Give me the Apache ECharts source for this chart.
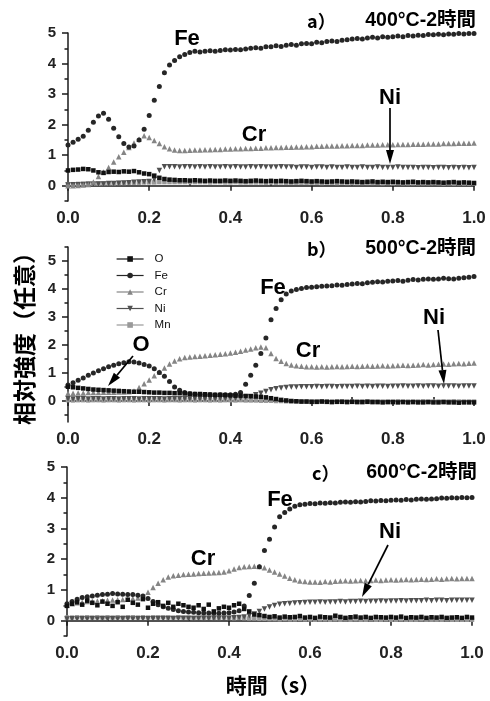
<!DOCTYPE html>
<html>
<head>
<meta charset="utf-8">
<script src="https://cdn.jsdelivr.net/npm/echarts@6/dist/echarts.min.js"></script>
<style>
html,body{margin:0;padding:0;background:#fff}
#chart{width:490px;height:701px}
</style>
</head>
<body>
<div id="chart"></div>
<script>
// sampling times, 0 .. 1.0 s, every 0.0125 s
var times = [];
for (var i = 0; i <= 80; i++) times.push(+(i * 0.0125).toFixed(4));

var elements = ['O', 'Fe', 'Cr', 'Ni', 'Mn'];
var xTicks = [0, 0.2, 0.4, 0.6, 0.8, 1.0];
var xMinorTicks = [0.1, 0.3, 0.5, 0.7, 0.9];
var yTicks = [0, 1, 2, 3, 4, 5];
var yMinorTicks = [-0.5, 0.5, 1.5, 2.5, 3.5, 4.5];
var yMinorTicksB = [-0.5, 0.5, 1.5, 2.5, 3.5, 4.5, 5.5];
var panelLetters = ['a）', 'b）', 'c）'];
var panelTitles = ['400°C-2時間', '500°C-2時間', '600°C-2時間'];

// a) 400°C
var oA = [0.50,0.52,0.53,0.55,0.54,0.50,0.44,0.42, 0.45,0.46,0.45,0.47,0.46,0.48,0.44,0.40,
  0.38,0.33,0.26,0.22,0.20,0.19,0.18,0.18, 0.17,0.18,0.17,0.16,0.17,0.16,0.16,0.17,
  0.16,0.17,0.16,0.15,0.16,0.17,0.16,0.15, 0.16,0.15,0.16,0.15,0.14,0.15,0.16,0.15,
  0.14,0.15,0.14,0.13,0.14,0.15,0.14,0.13, 0.14,0.13,0.12,0.13,0.14,0.12,0.13,0.12,
  0.13,0.12,0.11,0.12,0.13,0.11,0.12,0.11, 0.12,0.11,0.10,0.11,0.12,0.10,0.11,0.10, 0.09];
var feA = [1.33,1.42,1.52,1.62,1.82,2.08,2.28,2.37, 2.18,1.88,1.60,1.38,1.27,1.30,1.50,1.85,
  2.30,2.80,3.25,3.70,3.95,4.10,4.22,4.30, 4.36,4.40,4.38,4.40,4.42,4.40,4.43,4.45,
  4.44,4.46,4.45,4.48,4.50,4.52,4.50,4.55, 4.55,4.58,4.56,4.60,4.62,4.60,4.65,4.66,
  4.65,4.70,4.68,4.72,4.74,4.72,4.76,4.78, 4.80,4.82,4.80,4.84,4.86,4.84,4.88,4.86,
  4.88,4.90,4.88,4.92,4.90,4.93,4.92,4.95, 4.94,4.96,4.94,4.97,4.96,4.98,4.97,4.98, 4.98];
var crA = [0.00,0.00,0.01,0.02,0.04,0.12,0.30,0.45, 0.60,0.78,0.95,1.10,1.25,1.40,1.52,1.64,
  1.58,1.48,1.38,1.28,1.21,1.17,1.15,1.15, 1.16,1.17,1.17,1.18,1.18,1.19,1.19,1.20,
  1.20,1.21,1.21,1.22,1.22,1.23,1.23,1.24, 1.24,1.25,1.25,1.26,1.26,1.27,1.27,1.28,
  1.28,1.29,1.29,1.30,1.30,1.30,1.31,1.31, 1.32,1.32,1.32,1.33,1.33,1.33,1.34,1.34,
  1.34,1.35,1.35,1.35,1.36,1.36,1.36,1.37, 1.37,1.37,1.38,1.38,1.38,1.39,1.39,1.39, 1.40];
var niA = [0.02,0.03,0.03,0.04,0.05,0.05,0.06,0.06, 0.07,0.07,0.08,0.09,0.10,0.11,0.12,0.13,
  0.14,0.20,0.50,0.62,0.62,0.62,0.61,0.62, 0.62,0.61,0.62,0.61,0.62,0.61,0.61,0.62,
  0.61,0.62,0.61,0.61,0.62,0.61,0.62,0.61, 0.61,0.61,0.62,0.61,0.61,0.60,0.61,0.61,
  0.60,0.61,0.61,0.60,0.61,0.60,0.60,0.61, 0.60,0.60,0.61,0.60,0.60,0.61,0.60,0.60,
  0.60,0.61,0.60,0.60,0.60,0.59,0.60,0.60, 0.59,0.60,0.60,0.59,0.60,0.59,0.60,0.59, 0.60];
var mnA = [0.05,0.05,0.06,0.06,0.07,0.07,0.07,0.08, 0.08,0.08,0.09,0.09,0.10,0.10,0.10,0.11,
  0.11,0.11,0.12,0.12,0.12,0.12,0.12,0.12, 0.12,0.12,0.12,0.12,0.11,0.12,0.12,0.11,
  0.11,0.12,0.11,0.11,0.11,0.11,0.11,0.10, 0.11,0.10,0.11,0.10,0.10,0.10,0.10,0.10,
  0.10,0.10,0.09,0.10,0.10,0.09,0.10,0.09, 0.09,0.09,0.09,0.09,0.09,0.09,0.08,0.09,
  0.08,0.09,0.08,0.08,0.08,0.08,0.08,0.08, 0.08,0.08,0.07,0.08,0.07,0.08,0.07,0.07, 0.07];

// b) 500°C
var oB = [0.51,0.49,0.47,0.45,0.43,0.41,0.40,0.39, 0.38,0.37,0.36,0.35,0.34,0.33,0.33,0.32,
  0.31,0.30,0.30,0.29,0.29,0.28,0.28,0.27, 0.26,0.25,0.25,0.24,0.23,0.22,0.22,0.21,
  0.20,0.19,0.19,0.18,0.17,0.16,0.15,0.13, 0.10,0.07,0.04,0.02,0.00,-0.01,-0.02,-0.02,
  -0.03,-0.03,-0.02,-0.03,-0.04,-0.03,-0.03,-0.04, -0.03,-0.04,-0.04,-0.03,-0.04,-0.04,-0.05,-0.04,
  -0.04,-0.05,-0.04,-0.05,-0.04,-0.05,-0.05,-0.04, -0.05,-0.05,-0.04,-0.05,-0.05,-0.06,-0.05,-0.05, -0.05];
var feB = [0.57,0.65,0.74,0.82,0.92,1.00,1.08,1.15, 1.22,1.28,1.33,1.37,1.40,1.39,1.36,1.30,
  1.25,1.15,1.02,0.88,0.70,0.50,0.38,0.30, 0.26,0.24,0.23,0.22,0.22,0.21,0.22,0.22,
  0.22,0.24,0.30,0.60,0.92,1.28,1.70,2.25, 2.90,3.30,3.62,3.82,3.93,3.98,4.02,4.05,
  4.06,4.08,4.10,4.11,4.12,4.14,4.13,4.16, 4.18,4.20,4.19,4.22,4.24,4.26,4.25,4.28,
  4.29,4.30,4.28,4.31,4.34,4.32,4.35,4.36, 4.35,4.36,4.38,4.37,4.36,4.38,4.40,4.42, 4.45];
var crB = [0.28,0.28,0.29,0.29,0.30,0.30,0.30,0.31, 0.31,0.31,0.32,0.32,0.33,0.36,0.48,0.62,
  0.75,0.90,1.04,1.18,1.32,1.43,1.51,1.55, 1.57,1.59,1.60,1.62,1.63,1.65,1.67,1.69,
  1.71,1.74,1.78,1.82,1.86,1.90,1.93,1.90, 1.70,1.52,1.42,1.34,1.29,1.26,1.24,1.22,
  1.22,1.21,1.22,1.21,1.22,1.23,1.22,1.23, 1.24,1.23,1.24,1.25,1.24,1.25,1.26,1.25,
  1.26,1.27,1.28,1.27,1.28,1.29,1.30,1.29, 1.30,1.31,1.32,1.31,1.33,1.34,1.33,1.35, 1.36];
var niB = [0.08,0.07,0.08,0.08,0.07,0.08,0.08,0.07, 0.08,0.08,0.07,0.08,0.08,0.08,0.07,0.08,
  0.08,0.08,0.08,0.07,0.08,0.08,0.08,0.08, 0.08,0.09,0.08,0.08,0.09,0.08,0.09,0.09,
  0.10,0.10,0.11,0.13,0.16,0.22,0.28,0.34, 0.40,0.44,0.46,0.48,0.50,0.50,0.51,0.51,
  0.51,0.52,0.51,0.52,0.52,0.51,0.52,0.52, 0.52,0.53,0.52,0.53,0.52,0.53,0.53,0.52,
  0.53,0.53,0.54,0.53,0.53,0.54,0.53,0.54, 0.54,0.53,0.54,0.54,0.54,0.53,0.54,0.54, 0.54];
var mnB = [0.03,0.02,0.03,0.03,0.02,0.03,0.03,0.02, 0.03,0.03,0.02,0.03,0.03,0.02,0.03,0.03,
  0.02,0.03,0.03,0.02,0.03,0.03,0.02,0.03, 0.03,0.02,0.03,0.03,0.02,0.03,0.02,0.03,
  0.03,0.02,0.03,0.02,0.02,0.02,0.01,0.01, 0.01,0.00,0.00,-0.01,-0.01,-0.01,-0.02,-0.02,
  -0.02,-0.02,-0.01,-0.02,-0.02,-0.02,-0.01,-0.02, -0.02,-0.02,-0.02,-0.01,-0.02,-0.02,-0.02,-0.02,
  -0.02,-0.01,-0.02,-0.02,-0.02,-0.02,-0.01,-0.02, -0.02,-0.02,-0.02,-0.02,-0.01,-0.02,-0.02,-0.02, -0.02];

// c) 600°C
var oC = [0.48,0.55,0.60,0.52,0.65,0.58,0.50,0.62, 0.55,0.48,0.60,0.45,0.68,0.58,0.52,0.70,
  0.42,0.55,0.60,0.48,0.58,0.45,0.55,0.50, 0.45,0.42,0.50,0.38,0.52,0.30,0.40,0.45,
  0.42,0.50,0.55,0.38,0.30,0.20,0.18,0.15, 0.12,0.14,0.10,0.13,0.11,0.12,0.15,0.10,
  0.12,0.09,0.13,0.11,0.10,0.16,0.12,0.09, 0.11,0.13,0.10,0.12,0.09,0.12,0.11,0.10,
  0.12,0.10,0.13,0.09,0.11,0.10,0.12,0.09, 0.11,0.10,0.12,0.09,0.10,0.11,0.09,0.12, 0.10];
var feC = [0.55,0.62,0.70,0.75,0.78,0.80,0.83,0.85, 0.86,0.88,0.87,0.86,0.85,0.85,0.83,0.80,
  0.72,0.62,0.52,0.45,0.40,0.36,0.32,0.30, 0.28,0.27,0.26,0.25,0.25,0.24,0.24,0.25,
  0.26,0.28,0.32,0.48,0.82,1.22,1.75,2.28, 2.65,3.05,3.38,3.52,3.63,3.72,3.77,3.79,
  3.81,3.80,3.83,3.82,3.84,3.83,3.85,3.86, 3.85,3.87,3.86,3.88,3.90,3.89,3.91,3.90,
  3.92,3.93,3.92,3.94,3.93,3.95,3.96,3.95, 3.96,3.97,3.99,3.98,4.00,3.99,4.01,4.00, 4.01];
var crC = [0.50,0.55,0.58,0.60,0.62,0.63,0.64,0.65, 0.66,0.67,0.68,0.69,0.70,0.72,0.74,0.78,
  0.92,1.08,1.22,1.33,1.42,1.46,1.48,1.50, 1.51,1.52,1.53,1.54,1.55,1.56,1.57,1.58,
  1.62,1.68,1.73,1.75,1.76,1.77,1.76,1.72, 1.65,1.58,1.52,1.45,1.38,1.33,1.29,1.27,
  1.26,1.26,1.25,1.27,1.26,1.28,1.29,1.30, 1.29,1.30,1.31,1.30,1.31,1.32,1.31,1.32,
  1.33,1.32,1.33,1.34,1.33,1.34,1.35,1.34, 1.35,1.36,1.35,1.36,1.37,1.36,1.37,1.37, 1.37];
var niC = [0.05,0.06,0.05,0.06,0.05,0.06,0.05,0.06, 0.05,0.06,0.05,0.06,0.06,0.05,0.06,0.06,
  0.06,0.06,0.07,0.06,0.07,0.06,0.07,0.07, 0.07,0.07,0.07,0.08,0.07,0.08,0.08,0.08,
  0.08,0.09,0.10,0.12,0.16,0.22,0.30,0.38, 0.44,0.49,0.53,0.55,0.56,0.57,0.58,0.59,
  0.60,0.60,0.61,0.60,0.61,0.61,0.62,0.61, 0.62,0.62,0.63,0.62,0.63,0.63,0.64,0.63,
  0.64,0.64,0.65,0.64,0.65,0.65,0.65,0.66, 0.65,0.66,0.66,0.65,0.66,0.66,0.66,0.66, 0.66];
var mnC = [0.10,0.10,0.11,0.10,0.11,0.10,0.11,0.10, 0.11,0.10,0.11,0.10,0.11,0.11,0.10,0.11,
  0.10,0.11,0.10,0.11,0.10,0.10,0.11,0.10, 0.10,0.09,0.10,0.09,0.10,0.09,0.09,0.10,
  0.09,0.08,0.09,0.08,0.07,0.07,0.06,0.06, 0.05,0.05,0.04,0.05,0.04,0.04,0.05,0.04,
  0.04,0.03,0.04,0.04,0.03,0.04,0.03,0.04, 0.03,0.04,0.03,0.03,0.04,0.03,0.03,0.04,
  0.03,0.03,0.04,0.03,0.03,0.03,0.04,0.03, 0.03,0.03,0.03,0.04,0.03,0.03,0.03,0.03, 0.03];

var panels = [
  {O: oA, Fe: feA, Cr: crA, Ni: niA, Mn: mnA},
  {O: oB, Fe: feB, Cr: crB, Ni: niB, Mn: mnB},
  {O: oC, Fe: feC, Cr: crC, Ni: niC, Mn: mnC}
];

var grids = [
  {left: 68, top: 33, width: 406, height: 168, ymin: -0.5, ymax: 5, minor: yMinorTicks},
  {left: 68, top: 247, width: 406, height: 175, ymin: -0.75, ymax: 5.5, minor: yMinorTicksB},
  {left: 67, top: 467, width: 405, height: 169, ymin: -0.5, ymax: 5, minor: yMinorTicks}
];

var marks = {
  O:  {symbol: 'rect', size: 4.5, rotate: 0, color: '#111'},
  Fe: {symbol: 'circle', size: 5, rotate: 0, color: '#262626'},
  Cr: {symbol: 'triangle', size: 5.5, rotate: 0, color: '#858585'},
  Ni: {symbol: 'triangle', size: 5.5, rotate: 180, color: '#505050'},
  Mn: {symbol: 'rect', size: 4.5, rotate: 0, color: '#999'}
};
var drawOrder = ['Mn', 'Ni', 'Cr', 'Fe', 'O'];

var axisColor = '#1a1a1a';
var latin = 'Liberation Sans';
var cjk = 'Noto Sans CJK JP';

var gridOpt = [], xAxisOpt = [], yAxisOpt = [], seriesOpt = [];
grids.forEach(function (g, p) {
  gridOpt.push({left: g.left, top: g.top, width: g.width, height: g.height});
  xAxisOpt.push({
    type: 'value', gridIndex: p, min: 0, max: 1, position: 'bottom',
    axisLine: {lineStyle: {color: axisColor, width: 1.5}},
    axisTick: {customValues: xTicks, length: 5, lineStyle: {color: axisColor, width: 1.5}},
    axisLabel: {customValues: xTicks, formatter: function (v) { return v.toFixed(1); },
      fontSize: 17, fontWeight: 'bold', color: '#222', margin: 9, fontFamily: latin},
    splitLine: {show: false}
  }, {
    type: 'value', gridIndex: p, min: 0, max: 1, position: 'bottom',
    axisLine: {show: false},
    axisTick: {customValues: xMinorTicks, inside: true, length: 4, lineStyle: {color: axisColor, width: 1.5}},
    axisLabel: {show: false}, splitLine: {show: false}
  });
  yAxisOpt.push({
    type: 'value', gridIndex: p, min: g.ymin, max: g.ymax, position: 'left',
    axisLine: {show: true, lineStyle: {color: axisColor, width: 1.5}},
    axisTick: {show: true, customValues: yTicks, length: 6, lineStyle: {color: axisColor, width: 1.5}},
    axisLabel: {customValues: yTicks, fontSize: 15, fontWeight: 'bold', color: '#222', margin: 12, fontFamily: latin},
    splitLine: {show: false}
  }, {
    type: 'value', gridIndex: p, min: g.ymin, max: g.ymax, position: 'left',
    axisLine: {show: false},
    axisTick: {show: true, customValues: g.minor, length: 3.5, lineStyle: {color: axisColor, width: 1.5}},
    axisLabel: {show: false}, splitLine: {show: false}
  });
  drawOrder.forEach(function (el) {
    var m = marks[el], vals = panels[p][el];
    seriesOpt.push({
      name: el, type: 'line', xAxisIndex: p * 2, yAxisIndex: p * 2,
      data: times.map(function (t, i) { return [t, vals[i]]; }),
      symbol: m.symbol, symbolSize: m.size, symbolRotate: m.rotate, showSymbol: true,
      itemStyle: {color: m.color},
      lineStyle: {color: m.color, width: 1, opacity: 0},
      silent: true
    });
  });
});

function text(str, x, y, size, opt) {
  opt = opt || {};
  return {
    type: 'text', x: x, y: y, rotation: opt.rotation || 0, z: 100,
    style: {
      text: str, fill: '#000', fontSize: size, fontFamily: opt.font || latin,
      fontWeight: opt.weight || 'normal', align: opt.align || 'center', verticalAlign: 'middle'
    }
  };
}

function arrow(x1, y1, x2, y2) {
  var a = Math.atan2(y2 - y1, x2 - x1), len = 14, w = 4;
  var bx = x2 - len * Math.cos(a), by = y2 - len * Math.sin(a);
  var sx = w * Math.sin(a), sy = w * Math.cos(a);
  return [
    {type: 'line', z: 100, shape: {x1: x1, y1: y1, x2: bx, y2: by}, style: {stroke: '#000', lineWidth: 1.7}},
    {type: 'polygon', z: 100, shape: {points: [[x2, y2], [bx + sx, by - sy], [bx - sx, by + sy]]}, style: {fill: '#000'}}
  ];
}

var graphics = [];
var titleY = [21, 249, 473];
var letterX = [307, 307, 312];
var titleRight = [476, 476, 477];
titleY.forEach(function (y, p) {
  graphics.push(text(panelLetters[p], letterX[p], y, 18, {align: 'left', font: cjk, weight: 'bold'}));
  graphics.push(text(panelTitles[p], titleRight[p], y, 19.5, {align: 'right', font: latin + ',' + cjk, weight: 'bold'}));
});

// element labels and arrows
var lbl = {weight: 'bold'};
graphics.push(
  text('Fe', 187, 39, 22, lbl), text('Cr', 254, 135, 22, lbl), text('Ni', 390, 98, 22, lbl),
  text('Fe', 273, 288, 22, lbl), text('Cr', 308, 351, 22, lbl), text('Ni', 434, 318, 22, lbl), text('O', 141, 345, 22, lbl),
  text('Fe', 280, 500, 22, lbl), text('Cr', 203, 559, 22, lbl), text('Ni', 390, 532, 22, lbl)
);
graphics = graphics.concat(
  arrow(390, 108, 390, 164),
  arrow(438, 330, 444, 384),
  arrow(133, 356, 108, 386),
  arrow(388, 545, 362, 597)
);

// axis titles
graphics.push(text('相対強度（任意）', 24, 333, 23, {font: cjk, weight: 'bold', rotation: Math.PI / 2}));
graphics.push(text('時間（s）', 273, 685, 21, {font: cjk, weight: 'bold'}));

var chart = echarts.init(document.getElementById('chart'), null, {renderer: 'canvas'});
chart.setOption({
  animation: false,
  backgroundColor: '#fff',
  grid: gridOpt,
  xAxis: xAxisOpt,
  yAxis: yAxisOpt,
  legend: {
    data: elements, orient: 'vertical', left: 111, top: 248,
    itemWidth: 27, itemHeight: 7, itemGap: 4.5, selectedMode: false,
    textStyle: {fontSize: 11.5, color: '#111', fontFamily: latin, lineHeight: 12, padding: [0, 0, 0, 6]},
    lineStyle: {width: 1.2, opacity: 1}
  },
  series: seriesOpt,
  graphic: graphics
});
</script>
</body>
</html>
